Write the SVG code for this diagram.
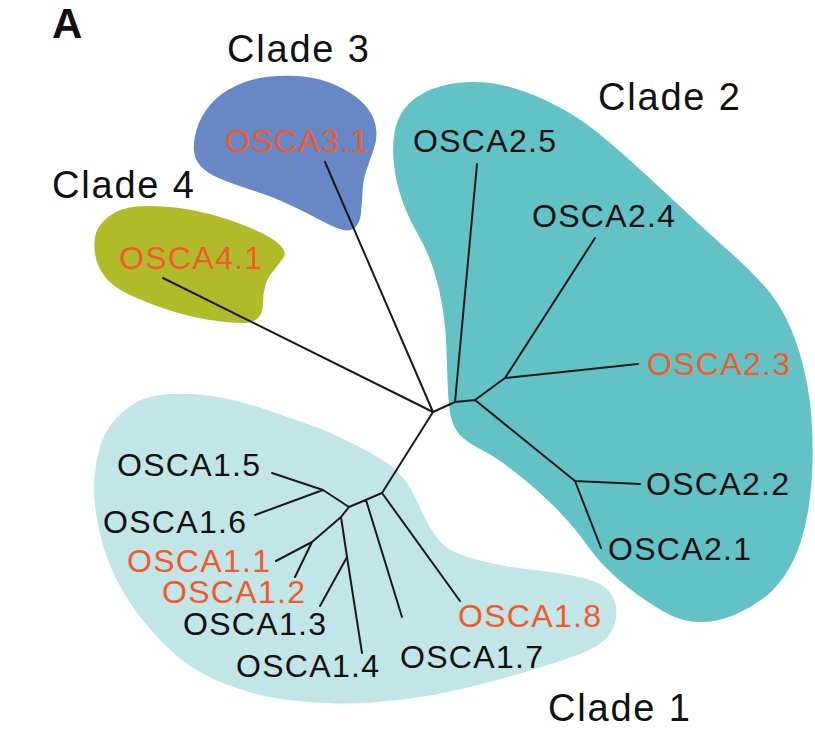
<svg xmlns="http://www.w3.org/2000/svg" width="815" height="735" viewBox="0 0 815 735">
<style>
.t{font-family:"Liberation Sans",Arial,sans-serif;font-size:32px;letter-spacing:1.3px;fill:#111}
.r{fill:#EF5B2B}
.cl{font-family:"Liberation Sans",Arial,sans-serif;font-size:38px;letter-spacing:1.8px;fill:#111}
.br{stroke:#1a1a1a;stroke-width:2;fill:none;stroke-linecap:round;stroke-linejoin:round}
</style>
<rect width="815" height="735" fill="#fff"/>
<text x="52" y="38" font-family="'Liberation Sans',Arial,sans-serif" font-size="42" font-weight="bold" fill="#111">A</text>
<g id="clade1">
<path fill="#C2E5E8" d="M96.5,461.5 Q100,443 106.5,431.5 Q113,420 125,410 Q137,400 152,396.5 Q167,393 190,394 Q213,395 233,400 Q253,405 270,411 Q287,417 303.5,422.5 Q320,428 332.5,434 Q345,440 357.5,446 Q370,452 381,459 Q392,466 400,474.5 Q408,483 413,493 Q418,503 423,514 Q428,525 435,535 Q442,545 451,550 Q460,555 472.5,558.5 Q485,562 500,565 Q515,568 537.5,570.5 Q560,573 576.5,576.5 Q593,580 601.5,585 Q610,590 614,599 Q618,608 615.5,620.5 Q613,633 603,641.5 Q593,650 568,658.5 Q543,667 515,675 Q487,683 457,690 Q427,697 393.5,700.5 Q360,704 336.5,703.5 Q313,703 288,700 Q263,697 238,688.5 Q213,680 196.5,670 Q180,660 163.5,643.5 Q147,627 135,610 Q123,593 115,576.5 Q107,560 101.5,540 Q96,520 94.5,500 Q93,480 96.5,461.5 Z"/>
<text class="cl" x="548" y="721">Clade 1</text>
</g>
<g id="clade2">
<path fill="#63C2C5" d="M394,165 Q392,147 394.5,132.5 Q397,118 405,108 Q413,98 426.5,91.5 Q440,85 456.5,83 Q473,81 490,83 Q507,85 527,92.5 Q547,100 567,111.5 Q587,123 608.5,141.5 Q630,160 650,178.5 Q670,197 691.5,217 Q713,237 730,252 Q747,267 763.5,285 Q780,303 790,326.5 Q800,350 805,373.5 Q810,397 811.5,418.5 Q813,440 812.5,462.5 Q812,485 809,505 Q806,525 800.5,542.5 Q795,560 785,575 Q775,590 762.5,599 Q750,608 736.5,614 Q723,620 710,621.5 Q697,623 686,620.5 Q675,618 663.5,611.5 Q652,605 640,596.5 Q628,588 618,579 Q608,570 601,562.5 Q594,555 587,545 Q580,535 570,523.5 Q560,512 549,501.5 Q538,491 525.5,480.5 Q513,470 501.5,462 Q490,454 480,449 Q470,444 463,438 Q456,432 452.5,422.5 Q449,413 448,391.5 Q447,370 446.5,350 Q446,330 443,310 Q440,290 434,271 Q428,252 418,234.5 Q408,217 402,200 Q396,183 394,165 Z"/>
<text class="cl" x="598" y="110">Clade 2</text>
</g>
<g id="clade3">
<path fill="#6787C5" d="M194,151.5 Q193,143 196.5,130 Q200,117 210,105 Q220,93 236.5,85.5 Q253,78 270,76.5 Q287,75 303.5,76.5 Q320,78 336.5,85.5 Q353,93 363,103 Q373,113 375.5,125 Q378,137 374,148.5 Q370,160 366.5,170 Q363,180 362.5,191.5 Q362,203 361,213 Q360,223 355,227.5 Q350,232 341.5,229.5 Q333,227 320,220 Q307,213 290,205 Q273,197 251.5,190 Q230,183 218.5,178 Q207,173 201,166.5 Q195,160 194,151.5 Z"/>
<text class="cl" x="227" y="62">Clade 3</text>
</g>
<g id="clade4">
<path fill="#B1BB2A" d="M95,253.5 Q93,240 96.5,231.5 Q100,223 110,215.5 Q120,208 136.5,206.5 Q153,205 175,207.5 Q197,210 218.5,216.5 Q240,223 256.5,230.5 Q273,238 280,245 Q287,252 283.5,257.5 Q280,263 274,270 Q268,277 265.5,285 Q263,293 263,303 Q263,313 258,318 Q253,323 241.5,323 Q230,323 210,320 Q190,317 168.5,310 Q147,303 130,295 Q113,287 105,277 Q97,267 95,253.5 Z"/>
<text class="cl" x="52" y="198">Clade 4</text>
</g>
<g id="connectors" class="br">
<path d="M163,278 L433,412 M325,162 L433,412 M433,412 L455,402 M433,412 L382,493"/>
<path d="M455,402 L477,164 M455,402 L475,400 L505,378 L595,238 M505,378 L638,364 M475,400 L575,481 L640,484 M575,481 L601,548"/>
<path d="M382,493 L349,507 L323,490 L272,473 M323,490 L255,515 M349,507 L341,517 L312,542 L276,561 M312,542 L295,577 M341,517 L347,557 L320,606 M347,557 L362,653 M366,500 L402,617 M382,493 L460,601"/>
</g>
<g id="leaf-OSCA3.1"><text class="t r" x="225" y="152">OSCA3.1</text></g>
<g id="leaf-OSCA4.1"><text class="t r" x="119" y="269">OSCA4.1</text></g>
<g id="leaf-OSCA2.5"><text class="t" x="413" y="152">OSCA2.5</text></g>
<g id="leaf-OSCA2.4"><text class="t" x="532" y="227">OSCA2.4</text></g>
<g id="leaf-OSCA2.3"><text class="t r" x="647" y="375">OSCA2.3</text></g>
<g id="leaf-OSCA2.2"><text class="t" x="646" y="495">OSCA2.2</text></g>
<g id="leaf-OSCA2.1"><text class="t" x="608" y="560">OSCA2.1</text></g>
<g id="leaf-OSCA1.5"><text class="t" x="117" y="476">OSCA1.5</text></g>
<g id="leaf-OSCA1.6"><text class="t" x="103" y="533">OSCA1.6</text></g>
<g id="leaf-OSCA1.1"><text class="t r" x="127" y="572">OSCA1.1</text></g>
<g id="leaf-OSCA1.2"><text class="t r" x="162" y="603">OSCA1.2</text></g>
<g id="leaf-OSCA1.3"><text class="t" x="183" y="635">OSCA1.3</text></g>
<g id="leaf-OSCA1.4"><text class="t" x="236" y="677">OSCA1.4</text></g>
<g id="leaf-OSCA1.7"><text class="t" x="400" y="668">OSCA1.7</text></g>
<g id="leaf-OSCA1.8"><text class="t r" x="458" y="627">OSCA1.8</text></g>
</svg>
